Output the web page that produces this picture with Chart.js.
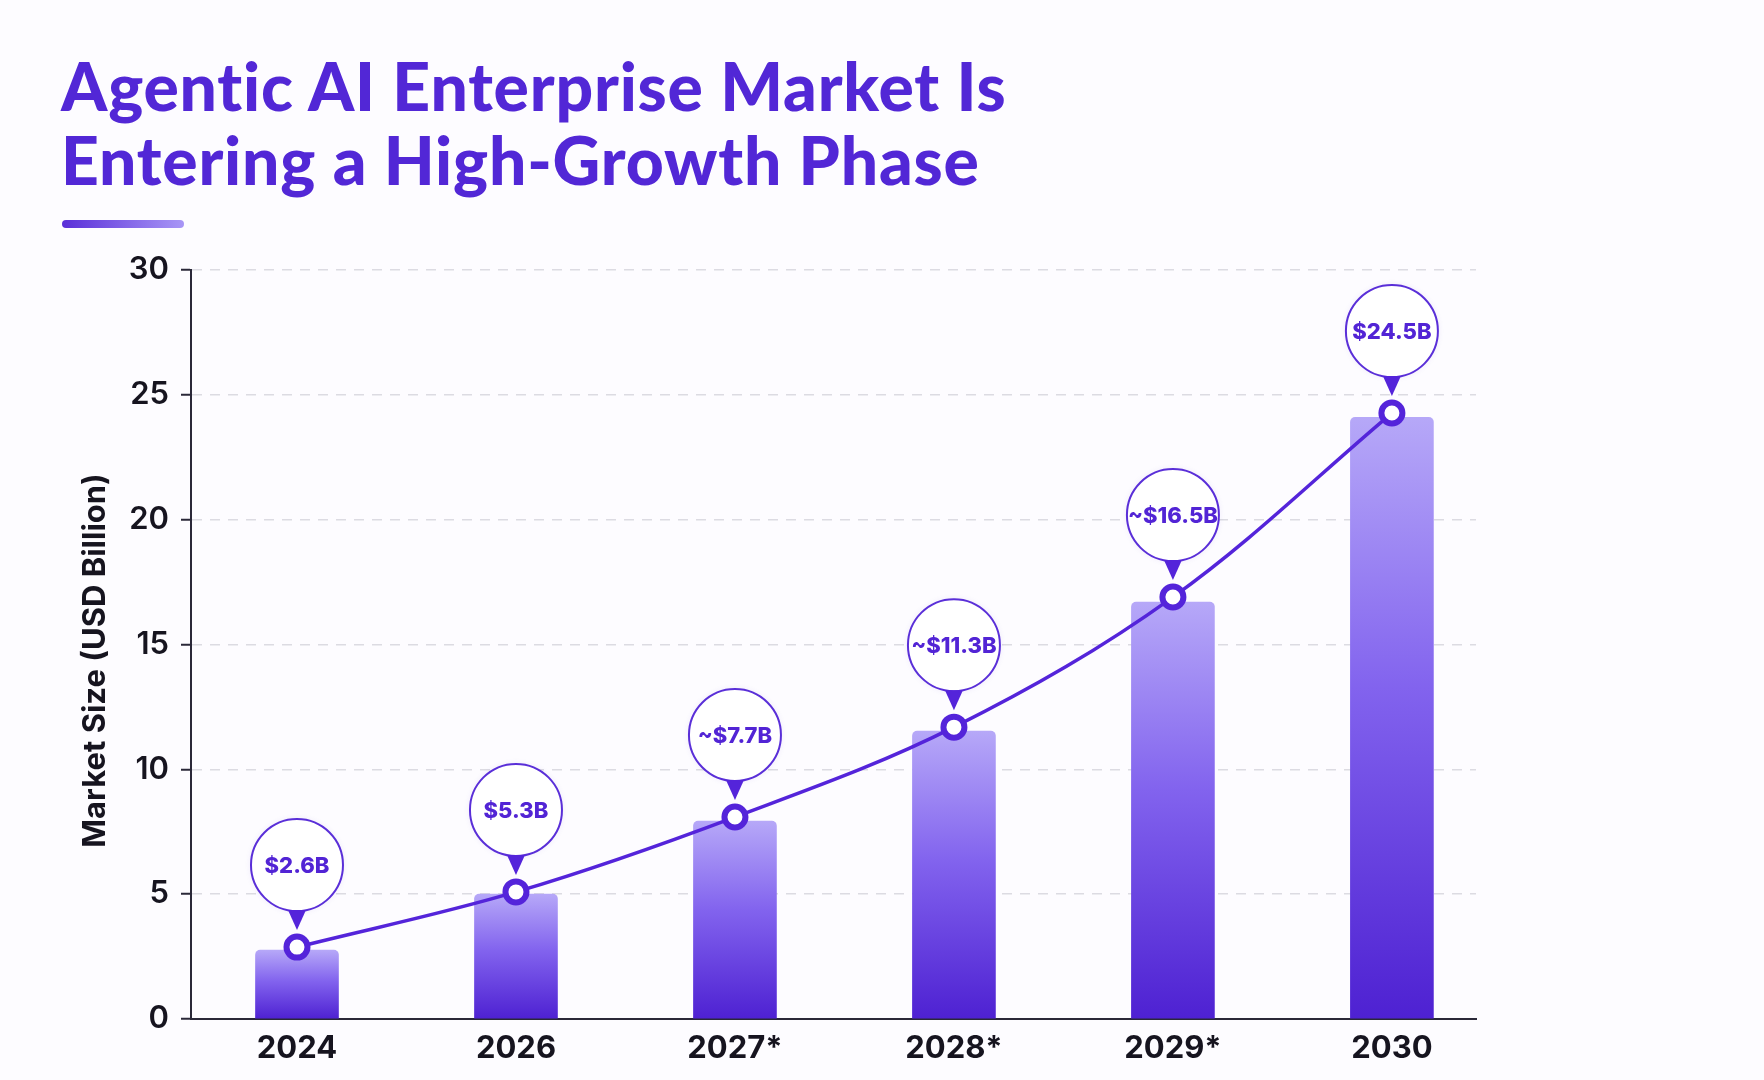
<!DOCTYPE html>
<html>
<head>
<meta charset="utf-8">
<script src="https://cdn.jsdelivr.net/npm/chart.js@4.4.1/dist/chart.umd.min.js"></script>
<style>
  html, body { margin: 0; padding: 0; background: #fdfcff; width: 1764px; height: 1080px; overflow: hidden; }
  #title { position: absolute; left: 61px; top: 49px; margin: 0; font-family: Lato, "Noto Sans", sans-serif; font-weight: 900; font-size: 66px; line-height: 74px; color: #5227d6; letter-spacing: 0.8px; white-space: nowrap; }
  #rule { position: absolute; left: 62px; top: 220px; width: 122px; height: 8px; border-radius: 4px; background: linear-gradient(90deg, #5a2fd8, #a896f6); }
  #wrap { position: absolute; left: 0; top: 0; width: 1764px; height: 1080px; }
</style>
</head>
<body>
<h1 id="title">Agentic AI Enterprise Market Is<br>Entering a High-Growth Phase</h1>
<div id="rule"></div>
<div id="wrap"><canvas id="c" width="1764" height="1080"></canvas></div>
<script>
const categories = ['2024', '2026', '2027*', '2028*', '2029*', '2030'];
const barValues = [2.76, 5.0, 7.93, 11.53, 16.7, 24.1];
const lineValues = [2.88, 5.09, 8.09, 11.69, 16.9, 24.27];
const valueLabels = ['$2.6B', '$5.3B', '~$7.7B', '~$11.3B', '~$16.5B', '$24.5B'];
const yTicks = [0, 5, 10, 15, 20, 25, 30];
const yTitle = 'Market Size (USD Billion)';

const PURPLE = '#5424da';
const INK = '#16141f';

const bubblePlugin = {
  id: 'bubbles',
  afterDatasetsDraw(chart) {
    const meta = chart.getDatasetMeta(1);
    const c = chart.ctx;
    meta.data.forEach((pt, i) => {
      const x = pt.x, y = pt.y;
      const r = 46;
      const cy = y - 82;
      c.save();
      c.shadowColor = 'rgba(80,40,200,0.10)';
      c.shadowBlur = 6;
      c.beginPath();
      c.arc(x, cy, r, 0, Math.PI * 2);
      c.fillStyle = '#ffffff';
      c.fill();
      c.shadowColor = 'transparent';
      c.lineWidth = 2;
      c.strokeStyle = '#5a2fd8';
      c.stroke();
      c.beginPath();
      c.moveTo(x - 9, cy + r - 1);
      c.lineTo(x + 9, cy + r - 1);
      c.lineTo(x, y - 17);
      c.closePath();
      c.fillStyle = PURPLE;
      c.fill();
      c.font = '800 22px Inter, Roboto, sans-serif';
      c.fillStyle = '#5224d5';
      c.textAlign = 'center';
      c.textBaseline = 'middle';
      c.fillText(valueLabels[i], x, cy + 1);
      c.restore();
    });
  }
};

const yTitlePlugin = {
  id: 'yTitle',
  afterDraw(chart) {
    const c = chart.ctx;
    const area = chart.chartArea;
    c.save();
    c.translate(96, (area.top + area.bottom) / 2 + 16);
    c.rotate(-Math.PI / 2);
    c.font = '700 31px Inter, Roboto, sans-serif';
    c.fillStyle = INK;
    c.textAlign = 'center';
    c.textBaseline = 'middle';
    c.fillText(yTitle, 0, 0);
    c.restore();
  }
};

new Chart(document.getElementById('c'), {
  data: {
    datasets: [
      {
        type: 'bar',
        data: barValues.map((v, i) => ({ x: i, y: v })),
        barThickness: 83,
        borderRadius: 5,
        borderSkipped: 'start',
        order: 1,
        backgroundColor: (ctx) => {
          const chart = ctx.chart;
          const area = chart.chartArea;
          if (!area || ctx.type !== 'data') return '#7b5cec';
          const top = chart.scales.y.getPixelForValue(barValues[ctx.dataIndex]);
          const bottom = chart.scales.y.getPixelForValue(0);
          const g = chart.ctx.createLinearGradient(0, top, 0, bottom);
          g.addColorStop(0, '#b6a8f8');
          g.addColorStop(0.45, '#8263ee');
          g.addColorStop(1, '#4e21d2');
          return g;
        }
      },
      {
        type: 'line',
        data: lineValues.map((v, i) => ({ x: i, y: v })),
        borderColor: PURPLE,
        borderWidth: 3.5,
        tension: 0.35,
        pointRadius: 10.5,
        pointHoverRadius: 10.5,
        pointBorderWidth: 6,
        pointBackgroundColor: '#ffffff',
        pointBorderColor: PURPLE,
        order: 0
      }
    ]
  },
  options: {
    responsive: false,
    animation: false,
    devicePixelRatio: 1,
    layout: { padding: { top: 270, right: 288, bottom: 0, left: 0 } },
    plugins: { legend: { display: false }, tooltip: { enabled: false } },
    scales: {
      x: {
        type: 'linear',
        offset: false,
        min: -0.484,
        max: 5.384,
        afterBuildTicks: (axis) => { axis.ticks = categories.map((_, i) => ({ value: i })); },
        afterFit: (axis) => { axis.height = 61; },
        grid: { display: false, offset: false },
        border: { display: true, color: '#2a2838', width: 2 },
        ticks: {
          autoSkip: false,
          maxRotation: 0,
          padding: 3,
          color: INK,
          font: { family: 'Inter, Roboto, sans-serif', size: 31, weight: '700' },
          callback: (v) => categories[v] ?? ''
        }
      },
      y: {
        min: 0,
        max: 30,
        afterBuildTicks: (axis) => { axis.ticks = yTicks.map(v => ({ value: v })); },
        afterFit: (axis) => { axis.width = 191; },
        grid: {
          color: (c) => (c.tick && c.tick.value === 0) ? 'rgba(0,0,0,0)' : '#dcdbe2',
          lineWidth: 1.5,
          tickColor: '#2a2838',
          tickLength: 10,
          tickWidth: 2
        },
        border: { display: true, color: '#2a2838', width: 2, dash: [10, 8] },
        ticks: {
          padding: 12,
          color: INK,
          font: { family: 'Inter, Roboto, sans-serif', size: 31, weight: '600' }
        },
        title: { display: false }
      }
    }
  },
  plugins: [bubblePlugin, yTitlePlugin]
});
</script>
</body>
</html>
